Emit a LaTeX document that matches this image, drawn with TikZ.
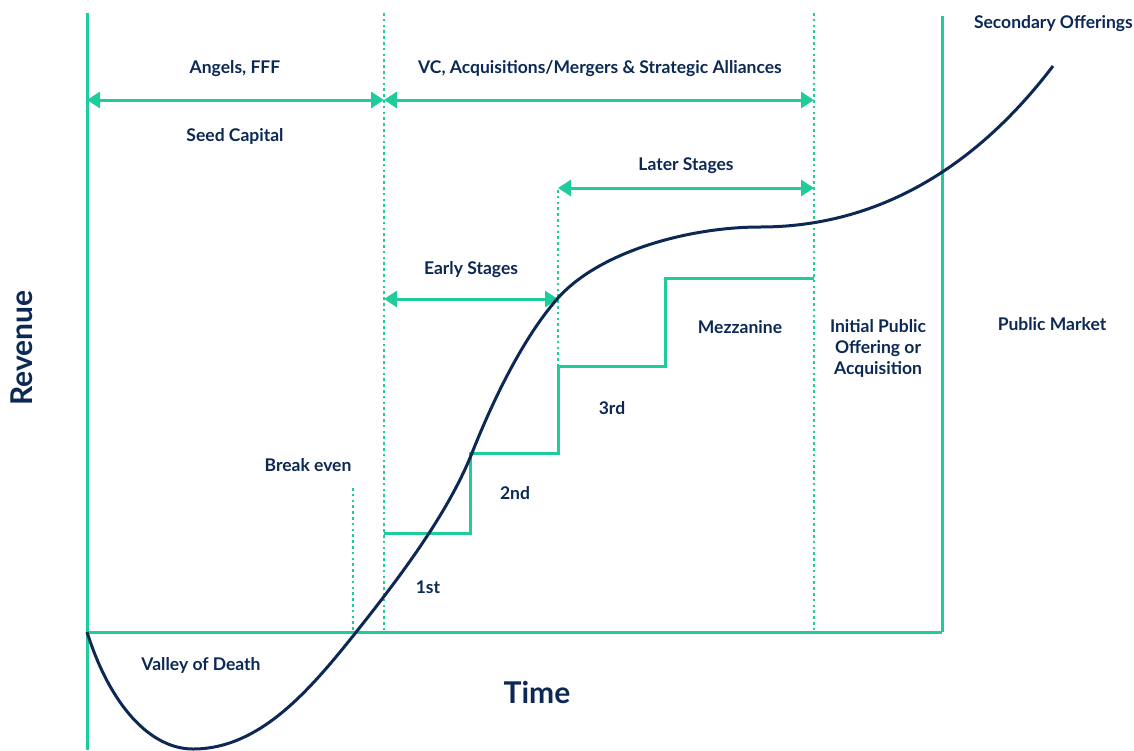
\documentclass[tikz,border=0pt]{standalone}
\usepackage{fontspec}
\setmainfont{Lato}
\usetikzlibrary{arrows.meta}
\definecolor{navy}{RGB}{12,40,84}
\definecolor{mint}{RGB}{30,205,155}
\begin{document}
\begin{tikzpicture}[x=1pt,y=-1pt,
  lbl/.style={text=navy,font=\bfseries\fontsize{17.5}{21}\selectfont,align=center,inner sep=0pt},
  biglbl/.style={text=navy,font=\bfseries\fontsize{30}{33}\selectfont,inner sep=0pt},
  solidline/.style={draw=mint,line width=3pt},
  dotline/.style={draw=mint,line width=2.7pt,dash pattern=on 2.6pt off 3.2pt},
  span/.style={draw=mint,line width=3pt,{Triangle[length=13pt,width=16pt]}-{Triangle[length=13pt,width=16pt]}},
  growth/.style={draw=navy,line width=3pt,line join=round}]
\useasboundingbox (0,0) rectangle (1134,750);
% frame coordinates
\coordinate (L0) at (87,13);
\coordinate (L1) at (87,750);
\coordinate (D1t) at (384,13);
\coordinate (D1b) at (384,632);
\coordinate (D2t) at (814,13);
\coordinate (D2b) at (814,632);
\coordinate (Pt) at (942,16);
\coordinate (Pb) at (942,632);
\coordinate (B0) at (87,632);
\coordinate (BEt) at (353,488);
\coordinate (BEb) at (353,632);
\coordinate (D3t) at (558,190);
\coordinate (D3b) at (558,366);
% span coordinates
\coordinate (S0) at (87,100);
\coordinate (S1) at (384,100);
\coordinate (S2) at (814,100);
\coordinate (E0) at (384,299);
\coordinate (E1) at (558,299);
\coordinate (T0) at (558,188);
\coordinate (T1) at (814,188);
% step coordinates
\coordinate (K0) at (384,533);
\coordinate (K1) at (470,453);
\coordinate (K2) at (558,366);
\coordinate (K3) at (665,278);
\coordinate (K4) at (814,278);
% curve coordinates
\coordinate (C0) at (87,632);
\coordinate (C1) at (193,749);
\coordinate (C2) at (357,631);
\coordinate (C3) at (472,453);
\coordinate (C4) at (558,298);
\coordinate (C5) at (760,227);
\coordinate (C6) at (1053,66);

% lines
\draw[solidline] (L0) -- (L1);
\draw[solidline] (Pt) -- (Pb);
\draw[solidline] (B0) -- (Pb);
\draw[dotline] (D1t) -- (D1b);
\draw[dotline] (D2t) -- (D2b);
\draw[dotline] (BEt) -- (BEb);
\draw[dotline] (D3t) -- (D3b);
\draw[solidline] (K0) -| (K1) -| (K2) -| (K3) -- (K4);

% spans
\draw[span] (S0) -- (S1);
\draw[span] (S1) -- (S2);
\draw[span] (E0) -- (E1);
\draw[span] (T0) -- (T1);

% growth curve
\draw[growth] (C0) .. controls (110,705) and (150,749) .. (C1)
  .. controls (260,749) and (310,690) .. (C2)
  .. controls (395,583) and (447,516) .. (C3)
  .. controls (497,390) and (527,333) .. (C4)
  .. controls (600,251) and (690,227) .. (C5)
  .. controls (870,227) and (970,175) .. (C6);

% labels
\node[lbl] (angels) at (235,69) {Angels, FFF};
\node[lbl] (seed) at (235,136) {Seed Capital};
\node[lbl] (vc) at (600,69) {VC, Acquisitions/Mergers \& Strategic Alliances};
\node[lbl] (later) at (686,166) {Later Stages};
\node[lbl] (early) at (471,270) {Early Stages};
\node[lbl] (mezz) at (740,327) {Mezzanine};
\node[lbl] (ipo) at (878,348) {Initial Public\\Offering or\\Acquisition};
\node[lbl] (public) at (1052,324) {Public Market};
\node[lbl,anchor=east] (second) at (1133,24) {Secondary Offerings};
\node[lbl] (breakeven) at (308,465) {Break even};
\node[lbl] (third) at (612,408) {3rd};
\node[lbl] (second2) at (515,493) {2nd};
\node[lbl] (first) at (428,587) {1st};
\node[lbl] (valley) at (201,665) {Valley of Death};
\node[biglbl] (time) at (537,692) {Time};
\node[biglbl,rotate=90] (rev) at (22,348) {Revenue};
\end{tikzpicture}
\end{document}
